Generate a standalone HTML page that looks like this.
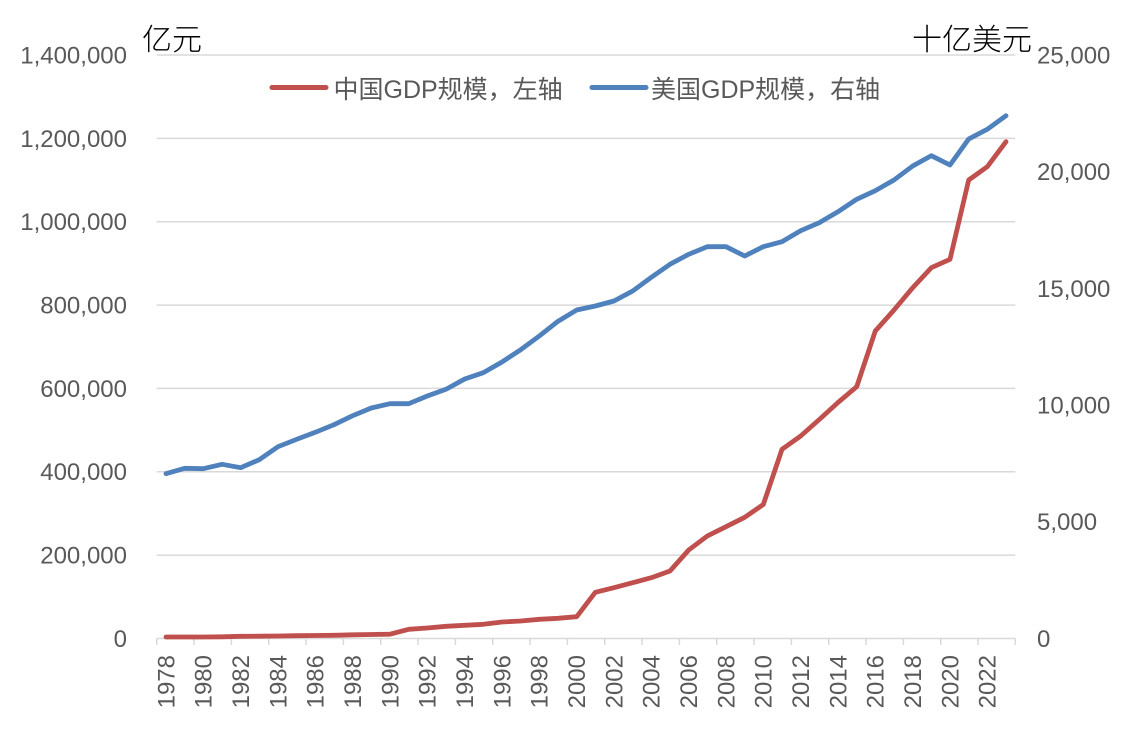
<!DOCTYPE html>
<html>
<head>
<meta charset="utf-8">
<style>
  html, body { margin: 0; padding: 0; background: #ffffff; }
  body { width: 1128px; height: 736px; overflow: hidden; }
  svg { display: block; }
  .ax { font-family: "Liberation Sans", "Noto Sans CJK SC", sans-serif; font-size: 24px; fill: #595959; }
  .lg { font-family: "Liberation Sans", "Noto Sans CJK SC", sans-serif; font-size: 25px; fill: #595959; }
  .tt { font-family: "Noto Sans CJK SC", "WenQuanYi Zen Hei", sans-serif; font-size: 30px; font-weight: 300; fill: #000000; }
</style>
</head>
<body>
<svg width="1128" height="736" viewBox="0 0 1128 736" xmlns="http://www.w3.org/2000/svg">
  <!-- gridlines -->
  <g stroke="#D9D9D9" stroke-width="1.5">
    <line x1="156.7" y1="55" x2="1015.3" y2="55"/>
    <line x1="156.7" y1="138.4" x2="1015.3" y2="138.4"/>
    <line x1="156.7" y1="221.7" x2="1015.3" y2="221.7"/>
    <line x1="156.7" y1="305.1" x2="1015.3" y2="305.1"/>
    <line x1="156.7" y1="388.4" x2="1015.3" y2="388.4"/>
    <line x1="156.7" y1="471.8" x2="1015.3" y2="471.8"/>
    <line x1="156.7" y1="555.1" x2="1015.3" y2="555.1"/>
    <line x1="156.7" y1="638.5" x2="1015.3" y2="638.5"/>
  </g>
  <!-- x ticks -->
  <g stroke="#D9D9D9" stroke-width="1.5">
    <line x1="156.7" y1="638.5" x2="156.7" y2="645"/>
    <line x1="194" y1="638.5" x2="194" y2="645"/>
    <line x1="231.4" y1="638.5" x2="231.4" y2="645"/>
    <line x1="268.7" y1="638.5" x2="268.7" y2="645"/>
    <line x1="306" y1="638.5" x2="306" y2="645"/>
    <line x1="343.4" y1="638.5" x2="343.4" y2="645"/>
    <line x1="380.7" y1="638.5" x2="380.7" y2="645"/>
    <line x1="418" y1="638.5" x2="418" y2="645"/>
    <line x1="455.4" y1="638.5" x2="455.4" y2="645"/>
    <line x1="492.7" y1="638.5" x2="492.7" y2="645"/>
    <line x1="530" y1="638.5" x2="530" y2="645"/>
    <line x1="567.4" y1="638.5" x2="567.4" y2="645"/>
    <line x1="604.7" y1="638.5" x2="604.7" y2="645"/>
    <line x1="642" y1="638.5" x2="642" y2="645"/>
    <line x1="679.4" y1="638.5" x2="679.4" y2="645"/>
    <line x1="716.7" y1="638.5" x2="716.7" y2="645"/>
    <line x1="754" y1="638.5" x2="754" y2="645"/>
    <line x1="791.4" y1="638.5" x2="791.4" y2="645"/>
    <line x1="828.7" y1="638.5" x2="828.7" y2="645"/>
    <line x1="866" y1="638.5" x2="866" y2="645"/>
    <line x1="903.4" y1="638.5" x2="903.4" y2="645"/>
    <line x1="940.7" y1="638.5" x2="940.7" y2="645"/>
    <line x1="978" y1="638.5" x2="978" y2="645"/>
    <line x1="1015.3" y1="638.5" x2="1015.3" y2="645"/>
  </g>

  <!-- left axis labels -->
  <g class="ax" text-anchor="end">
    <text x="127" y="55" dy="0.35em">1,400,000</text>
    <text x="127" y="138.4" dy="0.35em">1,200,000</text>
    <text x="127" y="221.7" dy="0.35em">1,000,000</text>
    <text x="127" y="305.1" dy="0.35em">800,000</text>
    <text x="127" y="388.4" dy="0.35em">600,000</text>
    <text x="127" y="471.8" dy="0.35em">400,000</text>
    <text x="127" y="555.1" dy="0.35em">200,000</text>
    <text x="127" y="638.5" dy="0.35em">0</text>
  </g>
  <!-- right axis labels -->
  <g class="ax" text-anchor="start">
    <text x="1037" y="55" dy="0.35em">25,000</text>
    <text x="1037" y="171.7" dy="0.35em">20,000</text>
    <text x="1037" y="288.4" dy="0.35em">15,000</text>
    <text x="1037" y="405.1" dy="0.35em">10,000</text>
    <text x="1037" y="521.8" dy="0.35em">5,000</text>
    <text x="1037" y="638.5" dy="0.35em">0</text>
  </g>

  <!-- x labels -->
  <g class="ax" text-anchor="end">
    <text transform="translate(166,655) rotate(-90)" dy="0.35em">1978</text>
    <text transform="translate(203.3,655) rotate(-90)" dy="0.35em">1980</text>
    <text transform="translate(240.7,655) rotate(-90)" dy="0.35em">1982</text>
    <text transform="translate(278,655) rotate(-90)" dy="0.35em">1984</text>
    <text transform="translate(315.3,655) rotate(-90)" dy="0.35em">1986</text>
    <text transform="translate(352.7,655) rotate(-90)" dy="0.35em">1988</text>
    <text transform="translate(390,655) rotate(-90)" dy="0.35em">1990</text>
    <text transform="translate(427.3,655) rotate(-90)" dy="0.35em">1992</text>
    <text transform="translate(464.7,655) rotate(-90)" dy="0.35em">1994</text>
    <text transform="translate(502,655) rotate(-90)" dy="0.35em">1996</text>
    <text transform="translate(539.3,655) rotate(-90)" dy="0.35em">1998</text>
    <text transform="translate(576.7,655) rotate(-90)" dy="0.35em">2000</text>
    <text transform="translate(614,655) rotate(-90)" dy="0.35em">2002</text>
    <text transform="translate(651.3,655) rotate(-90)" dy="0.35em">2004</text>
    <text transform="translate(688.7,655) rotate(-90)" dy="0.35em">2006</text>
    <text transform="translate(726,655) rotate(-90)" dy="0.35em">2008</text>
    <text transform="translate(763.3,655) rotate(-90)" dy="0.35em">2010</text>
    <text transform="translate(800.7,655) rotate(-90)" dy="0.35em">2012</text>
    <text transform="translate(838,655) rotate(-90)" dy="0.35em">2014</text>
    <text transform="translate(875.3,655) rotate(-90)" dy="0.35em">2016</text>
    <text transform="translate(912.7,655) rotate(-90)" dy="0.35em">2018</text>
    <text transform="translate(950,655) rotate(-90)" dy="0.35em">2020</text>
    <text transform="translate(987.3,655) rotate(-90)" dy="0.35em">2022</text>
  </g>

  <!-- axis titles -->
  <text class="tt" x="142" y="50">亿元</text>
  <text class="tt" x="1032" y="50" text-anchor="end">十亿美元</text>

  <!-- series: China (left axis) -->
  <polyline fill="none" stroke="#C0504D" stroke-width="4.8" stroke-linejoin="round" stroke-linecap="round"
    points="166,637 184.7,637 203.3,637 222,636.8 240.7,636.3 259.3,636.2 278,636 296.7,635.7 315.3,635.5 334,635.3 352.7,634.8 371.3,634.5 390,634.2 408.7,629.3 427.3,628 446,626.3 464.7,625.3 483.3,624.3 502,622 520.7,621 539.3,619.3 558,618.3 576.7,616.7 595.3,592.3 614,587.7 632.7,582.7 651.3,577.7 670,571 688.7,550 707.3,536 726,526.7 744.7,517.3 763.3,504.5 782,449.3 800.7,436 819.3,419.5 838,402.5 856.7,386.7 875.3,331 894,310 912.7,287.7 931.3,267.7 950,259.3 968.7,180 987.3,166.7 1006,141.7"/>

  <!-- series: US (right axis) -->
  <polyline fill="none" stroke="#4F81BD" stroke-width="4.8" stroke-linejoin="round" stroke-linecap="round"
    points="166,473.7 184.7,468.3 203.3,468.7 222,464.3 240.7,467.7 259.3,459.7 278,446.7 296.7,439.3 315.3,432.3 334,424.7 352.7,415.7 371.3,408 390,403.7 408.7,403.7 427.3,396 446,389.3 464.7,379 483.3,372.7 502,362 520.7,349.7 539.3,336 558,321.3 576.7,310 595.3,306 614,301 632.7,291 651.3,277.3 670,264.3 688.7,254.3 707.3,246.7 726,246.7 744.7,256 763.3,246.7 782,241.7 800.7,230.7 819.3,222.7 838,211.7 856.7,199.3 875.3,190.7 894,180 912.7,166 931.3,155.7 950,165 968.7,139 987.3,129.3 1006,115.7"/>

  <!-- legend -->
  <line x1="272" y1="87.5" x2="326" y2="87.5" stroke="#C0504D" stroke-width="5" stroke-linecap="round"/>
  <text class="lg" x="333.5" y="98">中国GDP规模，左轴</text>
  <line x1="592" y1="87.5" x2="646" y2="87.5" stroke="#4F81BD" stroke-width="5" stroke-linecap="round"/>
  <text class="lg" x="651" y="98">美国GDP规模，右轴</text>
</svg>
</body>
</html>
